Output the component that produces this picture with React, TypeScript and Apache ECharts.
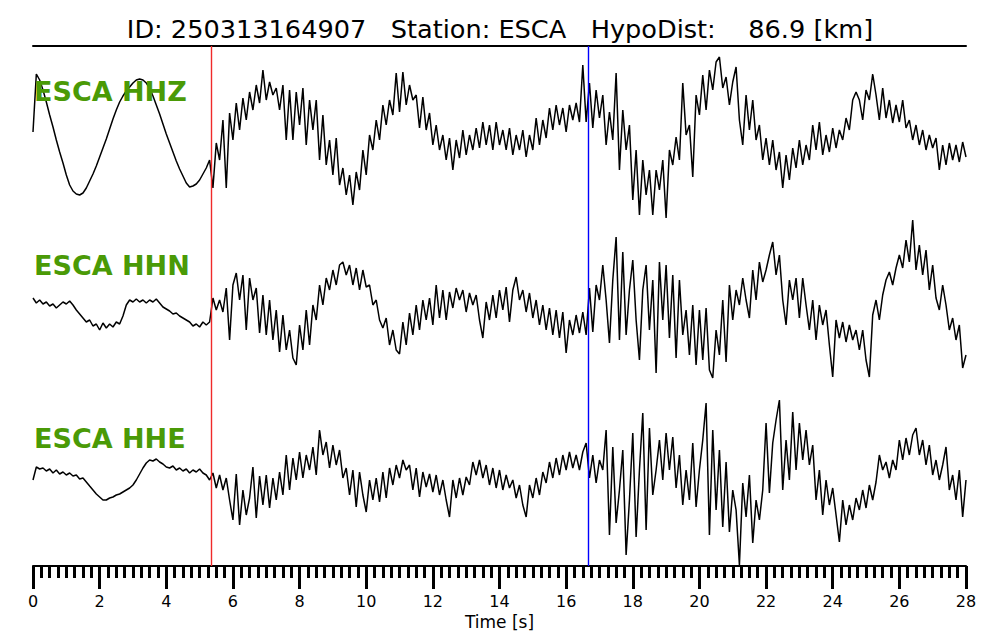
import React, { useEffect, useRef } from "react";
import * as echarts from "echarts";

const TITLE = "ID: 250313164907   Station: ESCA   HypoDist:    86.9 [km]";
const CHANNELS = ["ESCA HHZ", "ESCA HHN", "ESCA HHE"];
const X_TICK_LABELS = ["0", "2", "4", "6", "8", "10", "12", "14", "16", "18", "20", "22", "24", "26", "28"];
const X_NAME = "Time [s]";
const SAMPLE_DT = 0.1;
const P_PICK = 5.35;
const S_PICK = 16.66;

// amplitudes (arbitrary units, positive up), one sample every 0.1 s from 0 to 28 s
const HHZ = [
  3, 61, 55, 45, 33, 20, 8, -5, -17, -28,
  -40, -50, -56, -59, -60, -58, -53, -46, -39, -31,
  -22, -13, -4, 6, 16, 25, 33, 39, 44, 48,
  52, 55, 56, 55, 52, 47, 39, 30, 21, 11,
  1, -8, -17, -26, -34, -41, -48, -52, -51, -49,
  -45, -39, -33, -25, -53, -8, -25, 15, -53, 22,
  -5, 32, 5, 37, 15, 43, 25, 50, 32, 65,
  35, 53, 40, 47, 25, 50, -5, 45, -5, 43,
  10, 47, -10, 35, 5, 35, -25, 20, -30, -5,
  -40, -3, -50, -33, -60, -40, -70, -37, -55, -15,
  -40, 0, -15, 15, -5, 30, 10, 35, 20, 62,
  23, 63, 30, 50, 35, 40, 7, 38, 5, 22,
  -10, 10, -15, 0, -25, -3, -35, -5, -23, 5,
  -20, 0, -15, 7, -13, 13, -10, 10, -15, 13,
  -10, 5, -15, 7, -20, 0, -15, 5, -22, 0,
  -15, 17, -10, 15, -3, 27, 5, 30, 10, 27,
  3, 30, 15, 32, 13, 70, 13, 52, 7, 45,
  17, 40, -10, 23, -5, 62, -35, 25, -15, 10,
  -65, -15, -80, -25, -60, -35, -80, -35, -55, -25,
  -83, -15, -30, -2, -25, 52, 0, 10, -42, 40,
  20, 60, 25, 65, 45, 73, 78, 47, 58, 30,
  53, 68, 15, -10, 40, 5, 35, -5, 10, -25,
  -3, -30, -5, -35, -17, -53, -20, -45, -13, -33,
  -5, -30, -10, -25, 10, -15, 13, -20, 0, -17,
  7, -13, 5, -5, 17, 5, 35, 43, 35, 15,
  45, 35, 61, 40, 15, 47, 17, 35, 12, 30,
  13, 35, 7, 15, -5, 10, -10, 5, -15, 0,
  -13, -3, -35, -10, -30, -8, -25, -10, -27, -7,
  -22,
];

const HHN = [
  7, 2, 5, 1, 3, -1, 1, -3, 0, 3,
  1, 4, 0, -5, -9, -13, -17, -15, -21, -19,
  -25, -18, -23, -19, -22, -17, -19, -11, 0, 5,
  3, 6, 3, 5, 2, 5, 3, 6, 2, -2,
  -4, -6, -9, -8, -11, -13, -15, -17, -21, -19,
  -22, -17, -20, -17, 7, -5, 5, -7, 17, -35,
  20, 32, 5, 30, -25, 27, 5, 17, -28, 10,
  -30, 5, -35, -5, -47, -10, -45, -25, -53, -60,
  -20, -45, -5, -40, 0, -15, 20, 0, 27, 15,
  35, 20, 40, 43, 30, 40, 20, 37, 15, 35,
  18, 20, 0, 5, -15, -23, -13, -40, -25, -45,
  -49, -17, -40, -8, -30, 0, -25, 5, -15, 7,
  -20, 20, -13, 15, -15, 13, -3, 17, 5, 15,
  -7, 12, 0, 10, -15, -33, 3, -15, 10, -13,
  15, -5, 18, -17, 15, 28, 5, 15, -7, 12,
  -13, 5, -20, 0, -25, -3, -30, -5, -33, -7,
  -48, -15, -30, -10, -28, -7, -30, 17, -27, 20,
  5, 40, 5, -38, 25, 68, -35, 53, -30, 15,
  45, -15, -55, 15, 40, -25, 25, -68, 43, -15,
  40, -33, 30, -53, 25, -30, -5, -50, 0, -60,
  -5, -55, -3, -65, -73, -25, -50, 5, -57, 20,
  -15, 15, 0, 27, 5, -13, 35, 5, 43, 23,
  35, 50, 63, 30, 50, 5, -20, 25, 5, 27,
  -13, 27, 0, -25, 5, -35, 0, -20, -5, -40,
  -72, -15, -33, -17, -37, -20, -35, -25, -45, -25,
  -55, -72, -10, 5, -15, 10, 25, 33, 20, 37,
  50, 37, 65, 43, 85, 35, 60, 30, 55, 15,
  40, 7, -5, 20, 0, -25, -13, -35, -20, -63,
  -50,
];

const HHE = [
  -2, 11, 9, 10, 7, 9, 5, 8, 4, 6,
  3, 5, 2, 3, -1, 0, -4, -8, -12, -16,
  -19, -22, -22, -20, -19, -17, -16, -14, -12, -10,
  -7, -2, 4, 10, 15, 18, 17, 19, 16, 14,
  11, 10, 12, 8, 10, 7, 9, 5, 8, 6,
  9, 5, 3, -2, 5, -10, 3, -12, 0, -22,
  -42, 4, -47, -12, -37, -20, 11, -40, 2, -27,
  3, -30, 0, -22, 6, -17, 23, -12, 20, -2,
  26, 0, 23, 8, 31, 3, 48, 23, 36, 10,
  33, 13, 28, 0, 10, -17, 8, -29, 6, -17,
  -34, -2, -22, 0, -24, 6, -20, 10, -7, 13,
  0, 18, 8, 13, -12, 10, -19, 6, -9, 4,
  -14, 3, -17, -2, -22, -39, -2, -20, 0, -17,
  1, -7, 16, 3, 18, 0, 13, -7, 10, -10,
  8, -12, 3, -10, -2, -20, -7, -27, -39, -7,
  -20, 0, -17, 6, -5, 16, 0, 20, 3, 23,
  8, 26, 10, 23, 8, 26, 35, 0, 23, -5,
  18, 8, 48, -57, 31, -45, -12, 28, -77, -22,
  45, -59, 8, 65, -52, 50, -17, 8, 38, -2,
  45, 8, 41, -10, 23, -27, 8, -22, 35, -29,
  8, 38, 75, -57, 48, -32, 28, -49, 16, -54,
  -12, -32, -87, -5, -39, 3, -65, -22, -42, -12,
  55, -15, 35, 58, 78, -12, 38, -2, 66, 8,
  55, 18, 48, 13, 33, -22, 8, -37, -2, -27,
  -10, -37, -64, -22, -47, -27, -42, -20, -32, -12,
  -30, -7, -22, -4, 23, 8, 16, 0, 18, 8,
  38, 18, 40, 23, 43, 50, 23, 38, 13, 33,
  3, 18, -2, 13, 31, -12, 3, -22, 8, -39,
  -2,
];

const TRACES = [HHZ, HHN, HHE];

export default function App() {
  const ref = useRef<HTMLDivElement>(null);

  useEffect(() => {
    document.body.style.margin = "0";
    if (!ref.current) return;
    const chart = echarts.init(ref.current, undefined, { renderer: "svg" });

    const FONT = "DejaVu Sans";
    const GREEN = "#4a9a06";
    const offsets = [431, 261, 88];
    const labelY = [91, 265, 438];

    const series: any[] = TRACES.map((amp, k) => ({
      type: "line",
      name: CHANNELS[k],
      showSymbol: false,
      symbol: "none",
      silent: true,
      clip: false,
      lineStyle: { color: "#000", width: 1.5 },
      data: amp.map((v, i) => [+(i * SAMPLE_DT).toFixed(2), offsets[k] + v]),
      z: 3,
      markLine:
        k === 0
          ? {
              silent: true,
              symbol: ["none", "none"],
              label: { show: false },
              animation: false,
              data: [
                { xAxis: P_PICK, lineStyle: { color: "#f02a2a", width: 1.4, type: "solid" } },
                { xAxis: S_PICK, lineStyle: { color: "#0000ff", width: 1.4, type: "solid" } },
              ],
            }
          : undefined,
    }));

    chart.setOption({
      animation: false,
      backgroundColor: "#fff",
      title: {
        text: TITLE,
        left: "center",
        top: 11,
        textStyle: { fontSize: 25.6, fontWeight: "normal", fontFamily: FONT, color: "#000" },
      },
      grid: { left: 33, right: 34, top: 46, bottom: 74, containLabel: false },
      xAxis: [
        {
          type: "value",
          min: 0,
          max: 28,
          interval: 2,
          position: "bottom",
          name: X_NAME,
          nameLocation: "middle",
          nameGap: 40,
          nameTextStyle: { fontSize: 17, fontFamily: FONT, color: "#000" },
          axisLine: { show: true, lineStyle: { color: "#000", width: 2 } },
          axisTick: { show: true, length: 23, lineStyle: { color: "#000", width: 3 } },
          minorTick: { show: true, splitNumber: 8, length: 12, lineStyle: { color: "#000", width: 3 } },
          splitLine: { show: false },
          axisLabel: {
            margin: 27,
            fontSize: 16,
            fontFamily: FONT,
            color: "#000",
            formatter: (v: number) => X_TICK_LABELS[Math.round(v / 2)] ?? "",
          },
        },
        {
          type: "value",
          min: 0,
          max: 28,
          position: "top",
          axisLine: { show: true, lineStyle: { color: "#000", width: 2 } },
          axisTick: { show: false },
          axisLabel: { show: false },
          splitLine: { show: false },
        },
      ],
      yAxis: { type: "value", min: 0, max: 520, show: false, splitLine: { show: false } },
      series,
      graphic: CHANNELS.map((c, k) => ({
        type: "text",
        x: 34,
        y: labelY[k],
        z: 10,
        style: {
          text: c,
          fill: GREEN,
          font: `bold 27px "${FONT}"`,
          textAlign: "left",
          textVerticalAlign: "middle",
        },
      })),
    });

    return () => chart.dispose();
  }, []);

  return <div ref={ref} style={{ width: 1000, height: 640 }} />;
}
